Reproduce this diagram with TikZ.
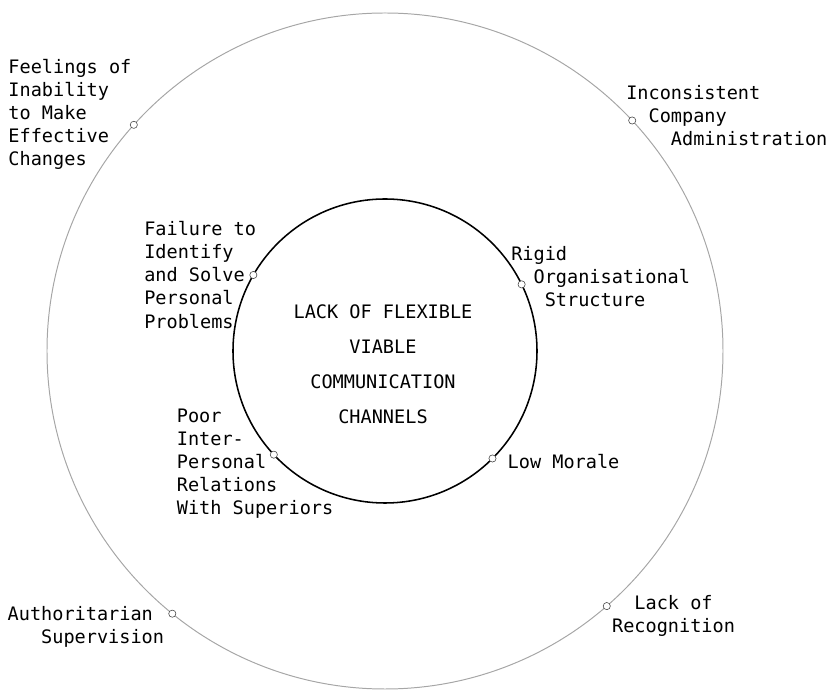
\documentclass[tikz,border=0pt]{standalone}
\usepackage{fontspec}
\setmonofont{DejaVu Sans Mono}

\begin{document}
\begin{tikzpicture}[dot/.style = {circle, draw = black!75, fill = white, thin, inner sep = 0pt, minimum size = .18cm},
lbl/.style = {anchor = base west, inner sep = 0pt, align = left, font = \ttfamily\fontsize{13.2}{16.5}\selectfont}]
\useasboundingbox (-9.625,-8.525) rectangle (11.3,8.775);
\node [circle, draw = black!35, line width = .7pt, minimum size = 16.9cm, inner sep = 0pt, outer sep = 0pt] (s2) at (0,0) {};
\node [circle, draw, line width = 1.1pt, minimum size = 7.6cm, inner sep = 0pt, outer sep = 0pt] (s1) at (0,0) {};
\node [anchor = base, inner sep = 0pt, align = center, font = \ttfamily\fontsize{13.2}{24.9}\selectfont] (t0) at (-.05,-1.81) {LACK OF FLEXIBLE\\VIABLE\\COMMUNICATION\\CHANNELS};
\node [dot] (p1) at (s1.150) {};
\node [dot] (p2) at (s1.26) {};
\node [dot] (p3) at (s1.-45) {};
\node [dot] (p4) at (s1.223) {};
\node [dot] (q1) at (s2.138.5) {};
\node [dot] (q2) at (s2.43.4) {};
\node [dot] (q3) at (s2.231.1) {};
\node [dot] (q4) at (s2.311.4) {};
\node [lbl] (t1) at (-6.025,.57) {Failure to\\Identify\\and Solve\\Personal\\Problems};
\node [lbl] (t2) at (3.15,1.11) {Rigid\\\phantom{xx}Organisational\\\phantom{xxx}Structure};
\node [lbl] (t3) at (3.06,-2.95) {Low Morale};
\node [lbl] (t4) at (-5.21,-4.1) {Poor\\Inter-\\Personal\\Relations\\With Superiors};
\node [lbl] (t5) at (-9.42,4.63) {Feelings of\\Inability\\to Make\\Effective\\Changes};
\node [lbl] (t6) at (6.025,5.13) {Inconsistent\\\phantom{xx}Company\\\phantom{xxxx}Administration};
\node [lbl] (t7) at (-9.44,-7.31) {Authoritarian\\\phantom{xxx}Supervision};
\node [lbl] (t8) at (5.67,-7.04) {\phantom{xx}Lack of\\Recognition};
\end{tikzpicture}
\end{document}
